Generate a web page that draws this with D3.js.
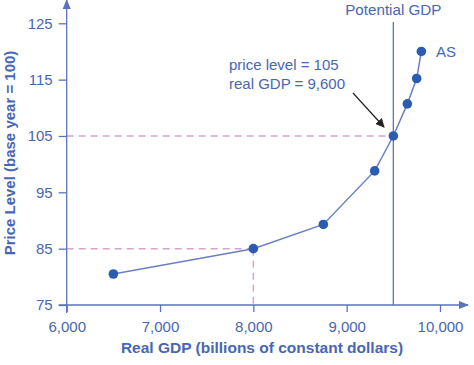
<!DOCTYPE html>
<html>
<head>
<meta charset="utf-8">
<script src="https://cdn.jsdelivr.net/npm/d3@7"></script>
<style>
  body { margin: 0; background: #fff; }
  text { font-family: "Liberation Sans", Arial, sans-serif; }
</style>
</head>
<body>
<div id="chart"></div>
<script>
// AS curve points
var gdp = [6500, 8000, 8750, 9300, 9500, 9650, 9750, 9800]
var price = [80.5, 85, 89.3, 98.8, 105, 110.7, 115.2, 120]
var xTicks = [6000, 7000, 8000, 9000, 10000]
var yTicks = [75, 85, 95, 105, 115, 125]
var potential = 9500

var width = 474, height = 365
var axisColor = "#5a72c0", textColor = "#4866b4", dotColor = "#2b5cb2", dashColor = "#d7a3cb"

var x = d3.scaleLinear().domain([6000, 10000]).range([66.7, 440])
var y = d3.scaleLinear().domain([75, 125]).range([305, 23.3])

const svg = d3.select("#chart").append("svg")
    .attr("width", width)
    .attr("height", height)

svg.append("defs").append("marker")
    .attr("id", "axisArrow")
    .attr("viewBox", "0 0 10 10")
    .attr("refX", 9).attr("refY", 5)
    .attr("markerWidth", 10).attr("markerHeight", 10)
    .attr("markerUnits", "userSpaceOnUse")
    .attr("orient", "auto")
  .append("path")
    .attr("d", "M0,1 L10,5 L0,9 Z")
    .attr("fill", axisColor)

svg.select("defs").append("marker")
    .attr("id", "blackArrow")
    .attr("viewBox", "0 0 10 10")
    .attr("refX", 9).attr("refY", 5)
    .attr("markerWidth", 9).attr("markerHeight", 9)
    .attr("markerUnits", "userSpaceOnUse")
    .attr("orient", "auto")
  .append("path")
    .attr("d", "M0,0 L10,5 L0,10 Z")
    .attr("fill", "#222")

// dashed guide lines
var dash = svg.append("g")
    .attr("stroke", dashColor)
    .attr("stroke-width", 1.5)
    .attr("stroke-dasharray", "7,5")
dash.append("line")
    .attr("x1", x(6000)).attr("x2", x(gdp[4]))
    .attr("y1", y(price[4])).attr("y2", y(price[4]))
dash.append("line")
    .attr("x1", x(6000)).attr("x2", x(gdp[1]))
    .attr("y1", y(price[1])).attr("y2", y(price[1]))
dash.append("line")
    .attr("x1", x(gdp[1])).attr("x2", x(gdp[1]))
    .attr("y1", y(price[1])).attr("y2", y(75))

// axes
const xAxis = svg.append("g")
    .attr("transform", "translate(0," + y(75) + ")")
    .call(d3.axisBottom(x).tickValues(xTicks).tickSize(7).tickSizeOuter(0).tickFormat(d3.format(",")))
xAxis.select(".domain").remove()
xAxis.selectAll("line").attr("stroke", axisColor).attr("stroke-width", 1.3)
xAxis.selectAll("text")
    .attr("fill", textColor)
    .attr("font-size", 15)
    .attr("dy", "1.1em")

const yAxis = svg.append("g")
    .attr("transform", "translate(" + x(6000) + ",0)")
    .call(d3.axisLeft(y).tickValues(yTicks).tickSize(8).tickSizeOuter(0))
yAxis.select(".domain").remove()
yAxis.selectAll("line").attr("stroke", axisColor).attr("stroke-width", 1.3)
yAxis.selectAll("text")
    .attr("fill", textColor)
    .attr("font-size", 15)
    .attr("x", -14)

svg.append("line")
    .attr("x1", x(6000) - 8).attr("x2", 468)
    .attr("y1", y(75)).attr("y2", y(75))
    .attr("stroke", axisColor).attr("stroke-width", 1.3)
    .attr("marker-end", "url(#axisArrow)")
svg.append("line")
    .attr("x1", x(6000)).attr("x2", x(6000))
    .attr("y1", y(75) + 8).attr("y2", 0)
    .attr("stroke", axisColor).attr("stroke-width", 1.3)
    .attr("marker-end", "url(#axisArrow)")

// potential GDP line
svg.append("line")
    .attr("x1", x(potential)).attr("x2", x(potential))
    .attr("y1", 22).attr("y2", y(75))
    .attr("stroke", axisColor).attr("stroke-width", 1.3)
svg.append("text")
    .attr("x", x(potential)).attr("y", 15)
    .attr("text-anchor", "middle")
    .attr("fill", textColor)
    .attr("font-size", 15.2)
    .text("Potential GDP")

// AS curve
var pts = gdp.map((g, i) => [g, price[i]])
svg.append("path")
    .datum(pts)
    .attr("fill", "none")
    .attr("stroke", "#6a7fc4")
    .attr("stroke-width", 1.5)
    .attr("d", d3.line().x(d => x(d[0])).y(d => y(d[1])))
svg.append("g")
    .selectAll("circle")
    .data(pts)
    .join("circle")
      .attr("cx", d => x(d[0]))
      .attr("cy", d => y(d[1]))
      .attr("r", 4.8)
      .attr("fill", dotColor)

svg.append("text")
    .attr("x", 436).attr("y", 57)
    .attr("fill", textColor)
    .attr("font-size", 15)
    .text("AS")

// annotation
var note = svg.append("text")
    .attr("fill", textColor)
    .attr("font-size", 15)
note.append("tspan").attr("x", 229).attr("y", 70).text("price level = 105")
note.append("tspan").attr("x", 229).attr("y", 89).text("real GDP = 9,600")

svg.append("line")
    .attr("x1", 353).attr("y1", 93)
    .attr("x2", 384).attr("y2", 127)
    .attr("stroke", "#222").attr("stroke-width", 1.2)
    .attr("marker-end", "url(#blackArrow)")

// axis titles
svg.append("text")
    .attr("x", 262).attr("y", 353)
    .attr("text-anchor", "middle")
    .attr("fill", textColor)
    .attr("font-size", 15.5)
    .attr("font-weight", "bold")
    .text("Real GDP (billions of constant dollars)")

svg.append("text")
    .attr("transform", "translate(15,153) rotate(-90)")
    .attr("text-anchor", "middle")
    .attr("fill", textColor)
    .attr("font-size", 15)
    .attr("font-weight", "bold")
    .text("Price Level (base year = 100)")
</script>
</body>
</html>
